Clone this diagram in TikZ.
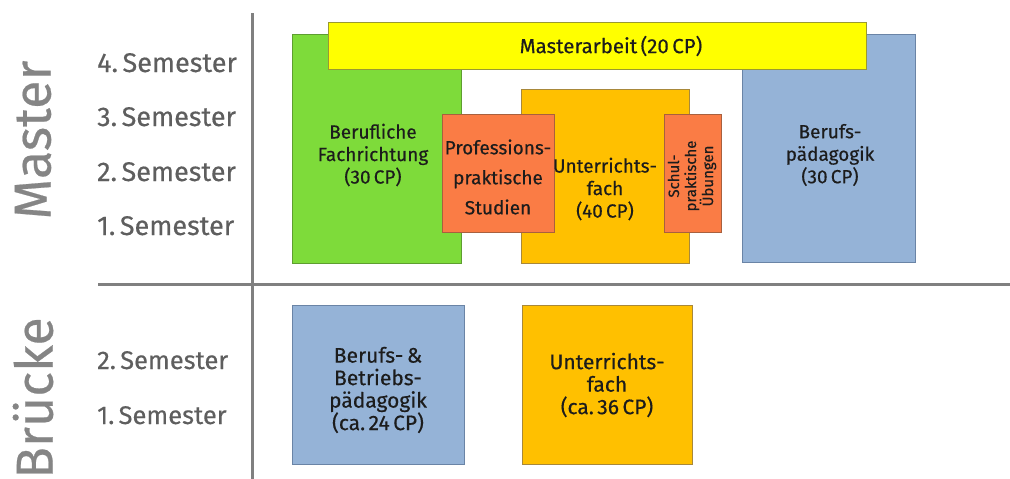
\documentclass[tikz,border=0pt]{standalone}
\usepackage{fontspec}
\setmainfont{Fira Sans}[FakeBold=0.4,UprightFeatures={FakeBold=0.4}]
\definecolor{cgreen}{HTML}{7EDB3A}
\definecolor{bgreen}{HTML}{5E9E30}
\definecolor{cyellow}{HTML}{FFFF00}
\definecolor{byellow}{HTML}{9A9A30}
\definecolor{cgold}{HTML}{FFC000}
\definecolor{bgold}{HTML}{A8883A}
\definecolor{corange}{HTML}{FA7C45}
\definecolor{borange}{HTML}{A8603E}
\definecolor{cblue}{HTML}{95B3D7}
\definecolor{bblue}{HTML}{6A84A6}
\definecolor{cline}{HTML}{808080}
\definecolor{csem}{HTML}{5E5E5E}
\definecolor{cbig}{HTML}{858585}
\definecolor{ctxt}{HTML}{1C1C1C}
\begin{document}
\begin{tikzpicture}[x=1pt,y=-1pt,
  box/.style={draw, line width=0.8pt, inner sep=0pt, anchor=north west},
  txt/.style={text=ctxt, align=center, inner sep=0pt, font=\fontsize{19}{22.5}\selectfont},
  sem/.style={text=csem, anchor=base west, inner sep=0pt, font=\fontsize{27}{30}\selectfont},
  semb/.style={text=csem, anchor=base west, inner sep=0pt, font=\fontsize{25.5}{28}\selectfont},
  big/.style={text=cbig, rotate=90, inner sep=0pt},
  sep/.style={draw=cline, line width=3pt}]
\useasboundingbox (0,0) rectangle (1010,479);
% separators
\coordinate (vt) at (252,13);
\coordinate (vb) at (252,479);
\coordinate (hl) at (98,284);
\coordinate (hr) at (1010,284);
\draw[sep] (vt) -- (vb);
\draw[sep] (hl) -- (hr);
% side labels
\node[big, font=\fontsize{52}{60}\selectfont] (master) at (33,140) {Master};
\node[big, font=\fontsize{52}{60}\selectfont] (bruecke) at (33,398) {Brücke};
\node[sem] (s4) at (97,72) {4.\,Semester};
\node[sem] (s3) at (97,126) {3.\,Semester};
\node[sem] (s2) at (97,181) {2.\,Semester};
\node[sem] (s1) at (97,235) {1.\,Semester};
\node[semb] (b2) at (97,369) {2.\,Semester};
\node[semb] (b1) at (97,424) {1.\,Semester};
% master boxes
\node[box, fill=cgreen, draw=bgreen, minimum width=169, minimum height=229] (green) at (292,34) {};
\node[box, fill=cblue, draw=bblue, minimum width=173, minimum height=228] (blue) at (742,34) {};
\node[box, fill=cgold, draw=bgold, minimum width=168, minimum height=174] (gold) at (521,89) {};
\node[box, fill=cyellow, draw=byellow, minimum width=538, minimum height=47] (yellow) at (328,22) {};
\node[box, fill=corange, draw=borange, minimum width=112, minimum height=118] (prof) at (442,114) {};
\node[box, fill=corange, draw=borange, minimum width=57, minimum height=118] (schul) at (664,114) {};
% bruecke boxes
\node[box, fill=cblue, draw=bblue, minimum width=172, minimum height=159] (bbp) at (292,305) {};
\node[box, fill=cgold, draw=bgold, minimum width=170, minimum height=159] (buf) at (522,305) {};
% texts
\node[txt, font=\fontsize{20.5}{22.5}\selectfont] (tyellow) at (611,46) {Masterarbeit\,(20\,CP)};
\node[txt] (tgreen) at (373,155) {Berufliche\\Fachrichtung\\(30\,CP)};
\node[txt, font=\fontsize{19}{30}\selectfont] (tprof) at (498,177) {Professions-\\praktische\\Studien};
\node[txt] (tgold) at (605,189) {Unterrichts-\\fach\\(40\,CP)};
\node[txt, rotate=90, font=\fontsize{15}{17}\selectfont] (tschul) at (692,176) {Schul-\\praktische\\Übungen};
\node[txt] (tblue) at (830,155) {Berufs-\\pädagogik\\(30\,CP)};
\node[txt, font=\fontsize{21}{22.5}\selectfont] (tbbp) at (378,390) {Berufs-\,\&\\Betriebs-\\pädagogik\\(ca.\,24\,CP)};
\node[txt, font=\fontsize{21}{22.5}\selectfont] (tbuf) at (607,385) {Unterrichts-\\fach\\(ca.\,36\,CP)};
\end{tikzpicture}
\end{document}
